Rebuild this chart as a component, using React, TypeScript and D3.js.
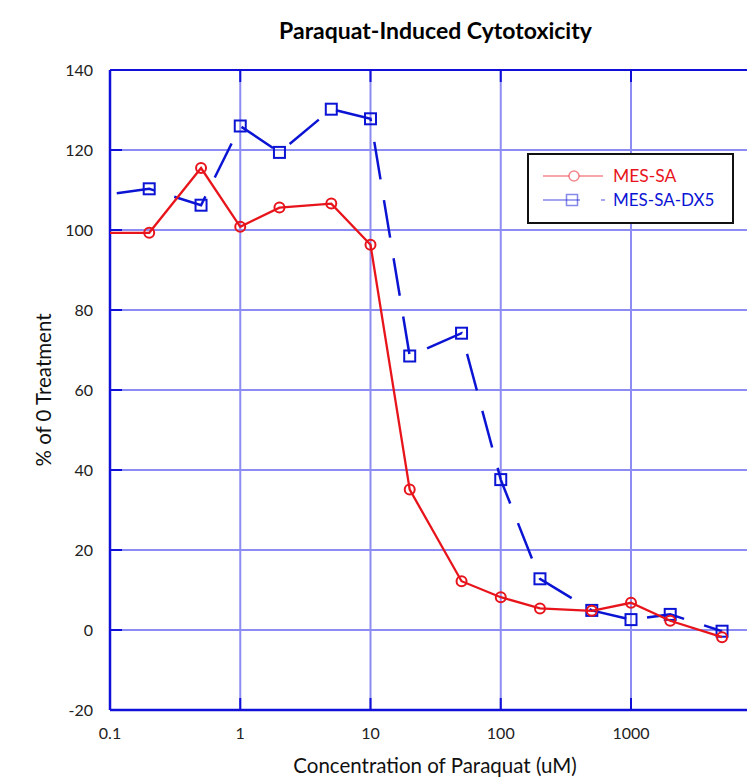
import React from "react";
import * as d3 from "d3";

const concentrations = [0.05, 0.2, 0.5, 1, 2, 5, 10, 20, 50, 100, 200, 500, 1000, 2000, 5000];
const mesSA = [99.3, 99.3, 115.5, 100.8, 105.6, 106.6, 96.3, 35.1, 12.2, 8.2, 5.4, 4.8, 6.8, 2.3, -1.8];
const mesSADX5 = [107.6, 110.3, 106.2, 126.0, 119.4, 130.2, 127.8, 68.5, 74.2, 37.6, 12.8, 4.9, 2.6, 3.9, -0.3];
const xTicks = [0.1, 1, 10, 100, 1000];
const yTicks = [-20, 0, 20, 40, 60, 80, 100, 120, 140];
const seriesNames = ["MES-SA", "MES-SA-DX5"];

const W = 747;
const H = 780;
const left = 110;
const top = 70;
const bottom = 710;
const decade = 130.25;
const right = left + 5 * decade;

const RED = "#e8141b";
const BLUE = "#0c14d4";
const GRID = "#8c8cf2";
const FRAME = "#1010d8";
const FONT = "Lato, 'Open Sans', sans-serif";

export default function App() {
  const x = d3.scaleLog().domain([0.1, 10000]).range([left, right]);
  const y = d3.scaleLinear().domain([-20, 140]).range([bottom, top]);
  const pts = (vals: number[]) => concentrations.map((c, i) => [x(c), y(vals[i])] as [number, number]);
  const line = d3.line<[number, number]>();
  const redPts = pts(mesSA);
  const bluePts = pts(mesSADX5);
  const visible = (p: [number, number]) => p[0] > left;

  return (
    <svg width={W} height={H} style={{ position: "absolute", left: 0, top: 0, background: "#fff" }}>
      <defs>
        <clipPath id="plot">
          <rect x={left} y={top - 10} width={W - left} height={bottom - top + 20} />
        </clipPath>
      </defs>
      <text x={435.5} y={39} textAnchor="middle" fontFamily={FONT} fontWeight="bold" fontSize={23} fill="#000">
        Paraquat-Induced Cytotoxicity
      </text>
      {/* gridlines */}
      {yTicks.map((t) => (
        <line key={"gy" + t} x1={left} x2={W} y1={y(t)} y2={y(t)} stroke={GRID} strokeWidth={2} />
      ))}
      {xTicks.map((t) => (
        <line key={"gx" + t} x1={x(t)} x2={x(t)} y1={top} y2={bottom} stroke={GRID} strokeWidth={2} />
      ))}
      {/* frame */}
      <line x1={left} x2={W} y1={top} y2={top} stroke={FRAME} strokeWidth={2} />
      <line x1={left} x2={W} y1={bottom} y2={bottom} stroke={FRAME} strokeWidth={2.5} />
      <line x1={left} x2={left} y1={top} y2={bottom} stroke={FRAME} strokeWidth={2.5} />
      {yTicks.map((t) => (
        <line key={"ty" + t} x1={left} x2={left + 12} y1={y(t)} y2={y(t)} stroke={FRAME} strokeWidth={2} />
      ))}
      {xTicks.map((t) => (
        <g key={"tx" + t}>
          <line x1={x(t)} x2={x(t)} y1={bottom} y2={bottom - 12} stroke={FRAME} strokeWidth={2} />
          <line x1={x(t)} x2={x(t)} y1={top} y2={top + 12} stroke={FRAME} strokeWidth={2} />
        </g>
      ))}
      {/* tick labels */}
      {yTicks.map((t) => (
        <text key={"ly" + t} x={93} y={y(t) + 5.5} textAnchor="end" fontFamily={FONT} fontSize={16} fill="#222">
          {t}
        </text>
      ))}
      {xTicks.map((t) => (
        <text key={"lx" + t} x={x(t)} y={739} textAnchor="middle" fontFamily={FONT} fontSize={16} fill="#222">
          {t}
        </text>
      ))}
      <text x={435} y={773} textAnchor="middle" fontFamily={FONT} fontSize={20.5} fill="#111">
        Concentration of Paraquat (uM)
      </text>
      <text
        transform={`translate(51,390) rotate(-90)`}
        textAnchor="middle"
        fontFamily={FONT}
        fontSize={20.5}
        fill="#111"
      >
        % of 0 Treatment
      </text>
      {/* series */}
      <g clipPath="url(#plot)">
        <path d={line(bluePts) || ""} fill="none" stroke={BLUE} strokeWidth={2.5} strokeDasharray="38,21" strokeDashoffset={12.6} />
        {bluePts.filter(visible).map((p, i) => (
          <rect key={"bs" + i} x={p[0] - 5.5} y={p[1] - 5.5} width={11} height={11} fill="none" stroke={BLUE} strokeWidth={2} />
        ))}
        <path d={line(redPts) || ""} fill="none" stroke={RED} strokeWidth={2.3} />
        {redPts.filter(visible).map((p, i) => (
          <circle key={"rc" + i} cx={p[0]} cy={p[1]} r={5} fill="none" stroke={RED} strokeWidth={2} />
        ))}
      </g>
      {/* legend */}
      <rect x={528} y={154} width={205} height={69} fill="#fff" stroke="#111" strokeWidth={2} />
      <line x1={543} x2={603} y1={176} y2={176} stroke={RED} strokeOpacity={0.5} strokeWidth={1.5} />
      <circle cx={574} cy={176} r={5} fill="#fff" stroke={RED} strokeOpacity={0.5} strokeWidth={1.5} />
      <text x={613} y={182} fontFamily={FONT} fontSize={17.5} fill={RED}>
        {seriesNames[0]}
      </text>
      <line x1={543} x2={580} y1={200} y2={200} stroke={BLUE} strokeOpacity={0.5} strokeWidth={1.5} />
      <line x1={601} x2={605} y1={200} y2={200} stroke={BLUE} strokeOpacity={0.5} strokeWidth={1.5} />
      <rect x={566.5} y={194.5} width={11} height={11} fill="none" stroke={BLUE} strokeOpacity={0.5} strokeWidth={1.5} />
      <text x={613} y={206} fontFamily={FONT} fontSize={17} fill={BLUE}>
        {seriesNames[1]}
      </text>
    </svg>
  );
}
